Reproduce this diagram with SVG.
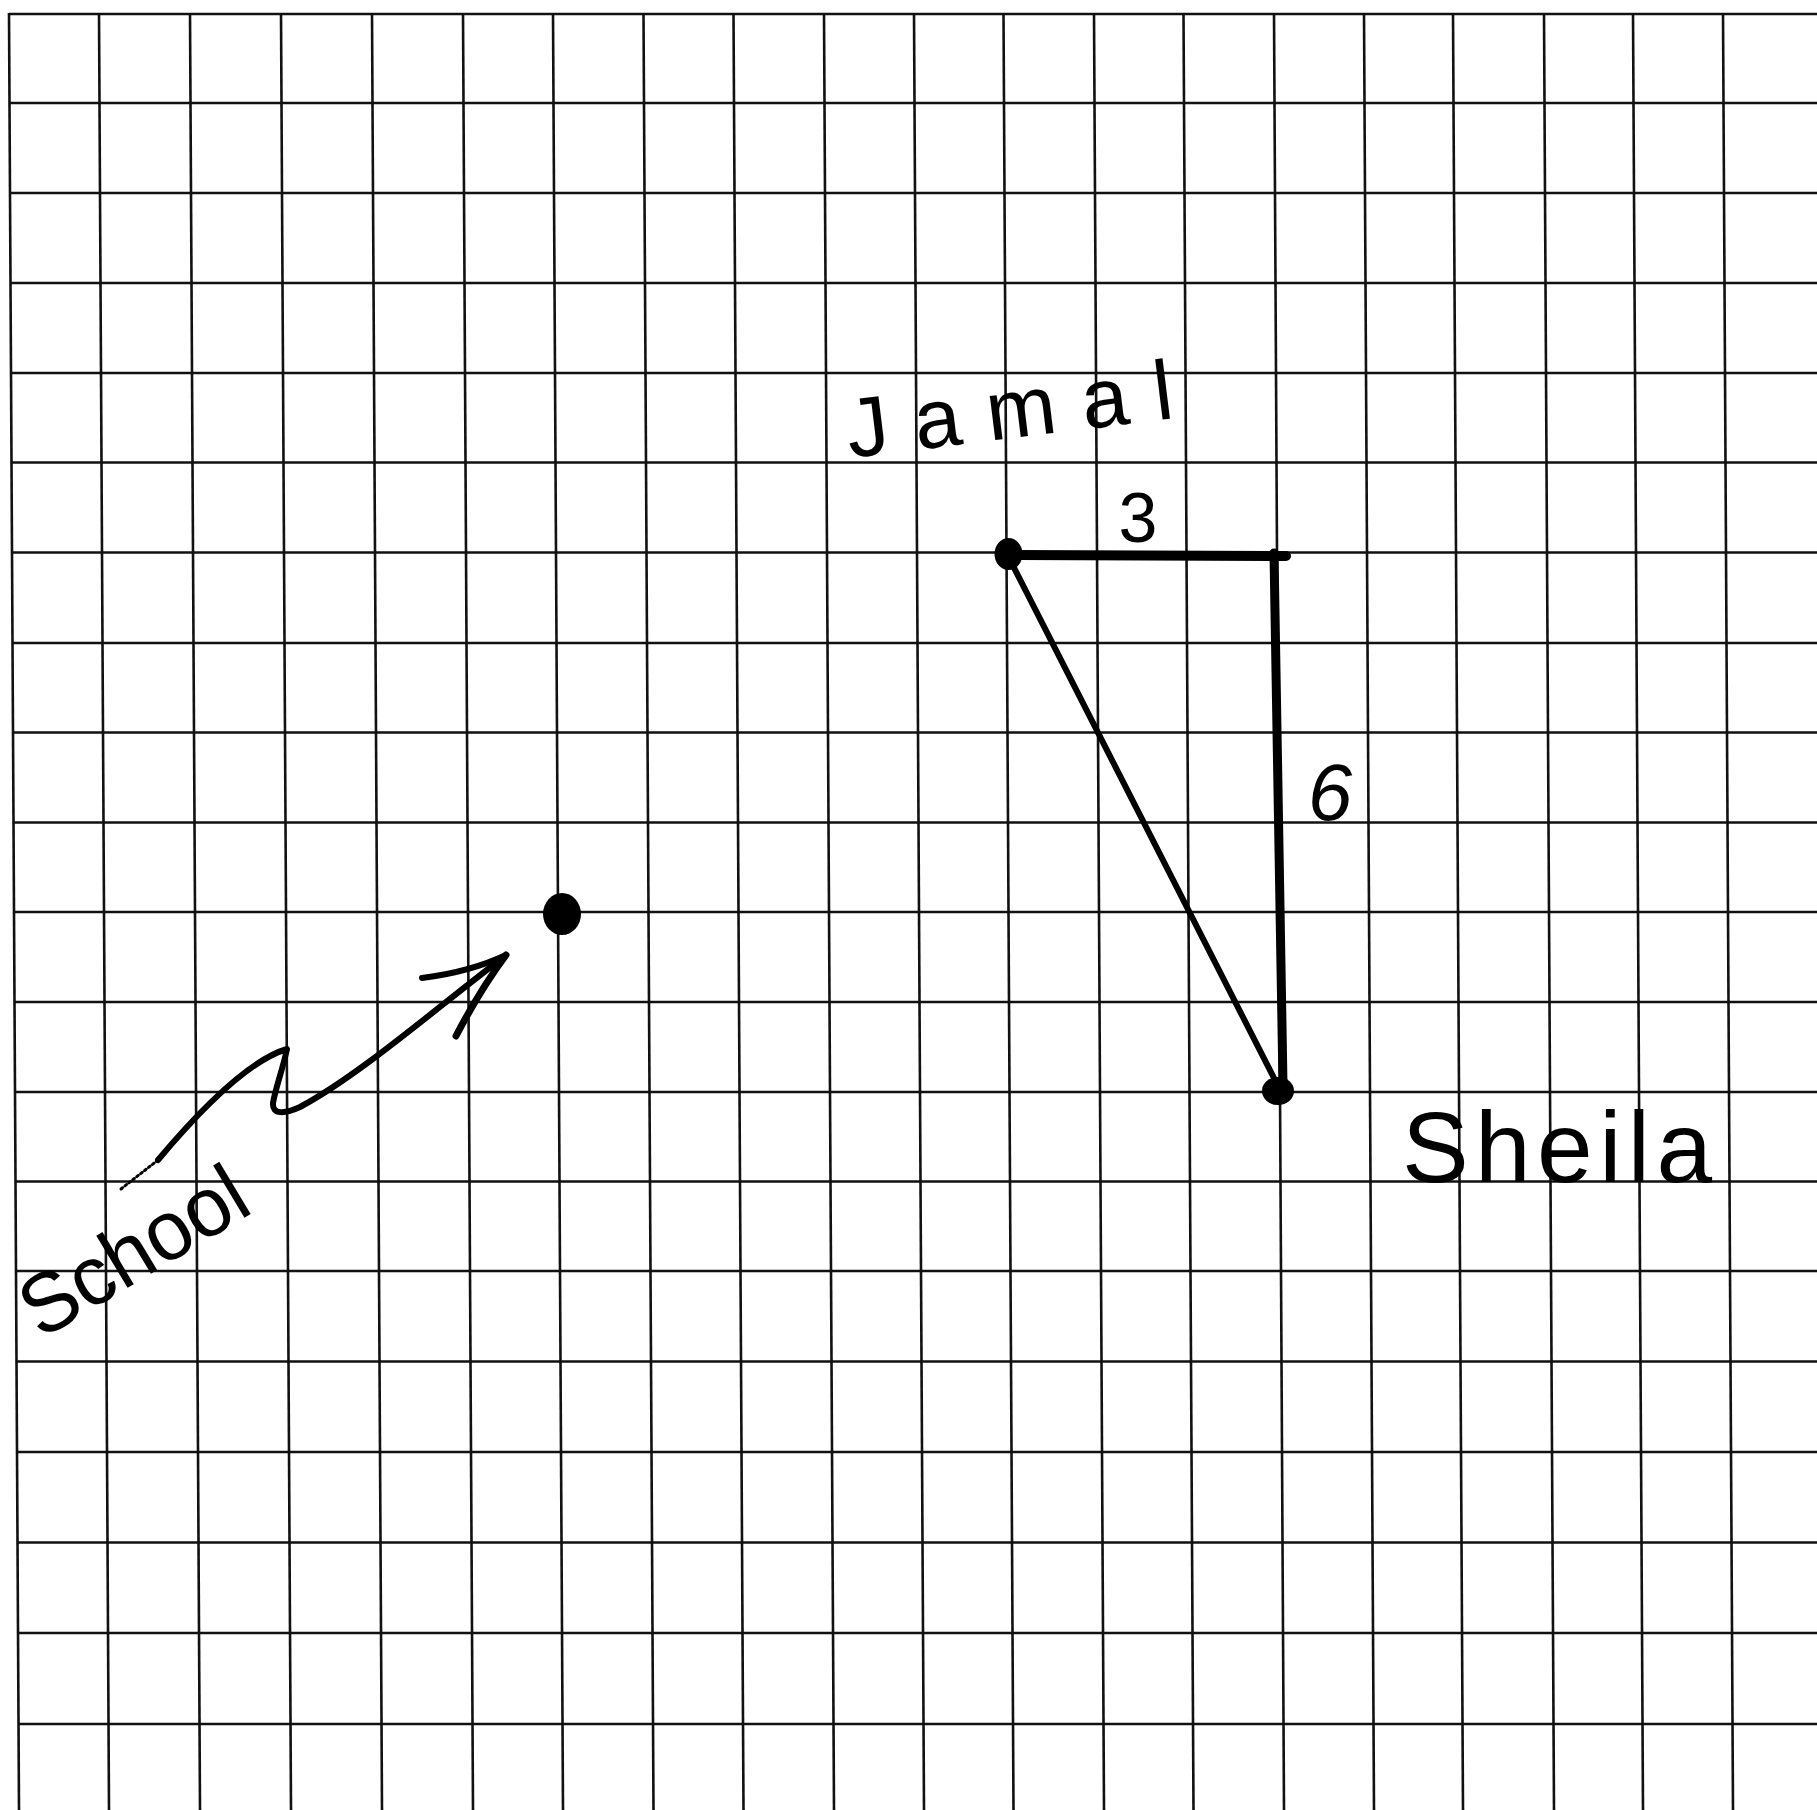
<svg xmlns="http://www.w3.org/2000/svg" width="1817" height="1810" viewBox="0 0 1817 1810">
  <style>
    .grid line { stroke: #111; stroke-width: 2.6; }
    .ink { stroke: #000; fill: none; stroke-linecap: round; stroke-linejoin: round; }
    .dot { fill: #000; }
    .hand { font-family: "Liberation Sans", Arial, sans-serif; fill: #000; }
  </style>
  <rect x="0" y="0" width="1817" height="1810" fill="#fff"/>
  <g id="grid" class="grid">
    <line x1="9" y1="13" x2="19" y2="1810"/>
    <line x1="99" y1="13" x2="109" y2="1810"/>
    <line x1="190" y1="13" x2="200" y2="1810"/>
    <line x1="281" y1="13" x2="291" y2="1810"/>
    <line x1="372" y1="13" x2="382" y2="1810"/>
    <line x1="463" y1="13" x2="473" y2="1810"/>
    <line x1="553" y1="13" x2="563" y2="1810"/>
    <line x1="643.5" y1="13" x2="653.5" y2="1810"/>
    <line x1="733.5" y1="13" x2="743.5" y2="1810"/>
    <line x1="824" y1="13" x2="834" y2="1810"/>
    <line x1="914" y1="13" x2="924" y2="1810"/>
    <line x1="1003.5" y1="13" x2="1013.5" y2="1810"/>
    <line x1="1094" y1="13" x2="1104" y2="1810"/>
    <line x1="1183.5" y1="13" x2="1193.5" y2="1810"/>
    <line x1="1274" y1="13" x2="1284" y2="1810"/>
    <line x1="1364" y1="13" x2="1374" y2="1810"/>
    <line x1="1453" y1="13" x2="1463" y2="1810"/>
    <line x1="1544" y1="13" x2="1554" y2="1810"/>
    <line x1="1633" y1="13" x2="1643" y2="1810"/>
    <line x1="1723" y1="13" x2="1733" y2="1810"/>
    <line x1="9" y1="14" x2="1817" y2="14"/>
    <line x1="9.5" y1="103" x2="1817" y2="103"/>
    <line x1="10" y1="193" x2="1817" y2="193"/>
    <line x1="10.5" y1="283" x2="1817" y2="283"/>
    <line x1="11" y1="373" x2="1817" y2="373"/>
    <line x1="11.5" y1="462.5" x2="1817" y2="462.5"/>
    <line x1="12" y1="552.5" x2="1817" y2="552.5"/>
    <line x1="12.5" y1="643" x2="1817" y2="643"/>
    <line x1="13" y1="732.5" x2="1817" y2="732.5"/>
    <line x1="13.5" y1="822.5" x2="1817" y2="822.5"/>
    <line x1="14" y1="912" x2="1817" y2="912"/>
    <line x1="14.5" y1="1002" x2="1817" y2="1002"/>
    <line x1="15" y1="1092" x2="1817" y2="1092"/>
    <line x1="15.5" y1="1181.5" x2="1817" y2="1181.5"/>
    <line x1="16" y1="1271" x2="1817" y2="1271"/>
    <line x1="16.5" y1="1361.5" x2="1817" y2="1361.5"/>
    <line x1="17" y1="1452" x2="1817" y2="1452"/>
    <line x1="17.5" y1="1542.5" x2="1817" y2="1542.5"/>
    <line x1="18" y1="1633" x2="1817" y2="1633"/>
    <line x1="18.5" y1="1724" x2="1817" y2="1724"/>
  </g>
  <g id="connectors">
    <line class="ink" x1="1008" y1="555" x2="1286" y2="556" stroke-width="10"/>
    <line class="ink" x1="1274" y1="553" x2="1283" y2="1085" stroke-width="9"/>
    <line class="ink" x1="1008" y1="556" x2="1276" y2="1082" stroke-width="6"/>
    <text class="hand" x="1138" y="542" font-size="70" text-anchor="middle">3</text>
    <text class="hand" x="1330" y="820" font-size="80" text-anchor="middle" font-style="italic">6</text>
    <path class="ink" d="M 121 1189 L 158 1160" stroke="#777" stroke-width="3" stroke-dasharray="2 3"/>
    <path class="ink" d="M 158 1160 C 200 1110, 250 1060, 287 1049 C 283 1068, 275 1090, 273 1103 C 272 1115, 285 1114, 300 1107 C 360 1075, 440 1005, 505 956" stroke-width="6"/>
    <path class="ink" d="M 422 978 Q 470 972 506 955" stroke-width="6"/>
    <path class="ink" d="M 506 955 Q 480 990 456 1036" stroke-width="7"/>
  </g>
  <g id="jamal">
    <ellipse class="dot" cx="1008.5" cy="554" rx="14" ry="16"/>
    <text class="hand" transform="translate(850 458) rotate(-7)" font-size="84" textLength="328" lengthAdjust="spacing">Jamal</text>
  </g>
  <g id="sheila">
    <ellipse class="dot" cx="1278" cy="1091" rx="16" ry="14"/>
    <text class="hand" x="1402" y="1182" font-size="100" textLength="310" lengthAdjust="spacing">Sheila</text>
  </g>
  <g id="school">
    <ellipse class="dot" cx="562" cy="914" rx="19" ry="21"/>
    <text class="hand" transform="translate(41 1340) rotate(-31)" font-size="84" textLength="250" lengthAdjust="spacingAndGlyphs">School</text>
  </g>
</svg>
